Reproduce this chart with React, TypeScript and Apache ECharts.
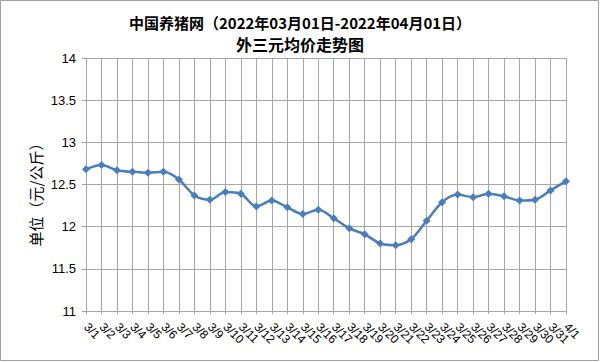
import React, { useEffect, useRef } from "react";
import * as echarts from "echarts";

const categories: string[] = [
  "3/1", "3/2", "3/3", "3/4", "3/5", "3/6", "3/7", "3/8", "3/9", "3/10",
  "3/11", "3/12", "3/13", "3/14", "3/15", "3/16", "3/17", "3/18", "3/19", "3/20",
  "3/21", "3/22", "3/23", "3/24", "3/25", "3/26", "3/27", "3/28", "3/29", "3/30",
  "3/31", "4/1",
];

const prices: number[] = [
  12.68, 12.73, 12.67, 12.65, 12.64, 12.65, 12.56, 12.37, 12.32, 12.41,
  12.39, 12.24, 12.31, 12.23, 12.15, 12.2, 12.1, 11.98, 11.91, 11.8,
  11.78, 11.85, 12.07, 12.29, 12.38, 12.35, 12.39, 12.36, 12.31, 12.32,
  12.43, 12.54,
];

const yTicks = { min: 11, max: 14, interval: 0.5 };

const titleLine1Parts = ["中国养猪网（", "2022年03月01日-2022年04月01日", "）"];
const titleLine2 = "外三元均价走势图";
const yAxisName = "单位（元/公斤）";

export default function App() {
  const ref = useRef<HTMLDivElement>(null);

  useEffect(() => {
    if (!ref.current) return;
    const chart = echarts.init(ref.current, undefined, { renderer: "svg" });
    const gridColor = "#a6a6a6";
    chart.setOption({
      animation: false,
      backgroundColor: "#ffffff",
      title: {
        text:
          "{n|" + titleLine1Parts[0] + "}{b|" + titleLine1Parts[1] + "}{n|" + titleLine1Parts[2] + "}\n{m|" + titleLine2 + "}",
        left: "center",
        top: 7,
        textStyle: {
          rich: {
            n: {
              fontFamily: "Noto Sans CJK SC",
              fontSize: 15,
              color: "#000",
              lineHeight: 21,
            },
            b: {
              fontFamily: "Noto Sans CJK SC",
              fontSize: 15,
              fontWeight: "bold",
              color: "#000",
              lineHeight: 21,
            },
            m: {
              fontFamily: "Noto Sans CJK SC",
              fontSize: 16,
              color: "#000",
              lineHeight: 21,
            },
          },
        },
      },
      graphic: [
        {
          type: "rect",
          shape: { x: 0.5, y: 0.5, width: 598, height: 360 },
          style: { fill: "none", stroke: "#a0a0a0", lineWidth: 1 },
          silent: true,
        },
        {
          type: "text",
          x: 35,
          y: 191,
          rotation: Math.PI / 2,
          style: {
            text: yAxisName,
            fontFamily: "Noto Sans CJK SC",
            fontSize: 15,
            fill: "#000",
            align: "center",
            verticalAlign: "middle",
          },
        },
      ],
      grid: { left: 86, right: 34, top: 58, bottom: 51 },
      xAxis: {
        type: "category",
        data: categories,
        boundaryGap: false,
        axisLine: { show: true, lineStyle: { color: gridColor, width: 1 } },
        axisTick: { show: true, length: 3, lineStyle: { color: gridColor } },
        splitLine: { show: true, lineStyle: { color: gridColor, width: 1 } },
        axisLabel: {
          interval: 0,
          rotate: -45,
          margin: 14,
          fontSize: 12,
          fontFamily: "Liberation Sans",
          color: "#000",
        },
      },
      yAxis: {
        type: "value",
        min: yTicks.min,
        max: yTicks.max,
        interval: yTicks.interval,
        axisLine: { show: true, lineStyle: { color: gridColor, width: 1 } },
        axisTick: { show: true, length: 4, lineStyle: { color: gridColor } },
        splitLine: { show: true, lineStyle: { color: gridColor, width: 1 } },
        axisLabel: {
          margin: 10,
          fontSize: 13,
          fontFamily: "Liberation Sans",
          color: "#000",
          formatter: (v: number) => String(v),
        },
      },
      series: [
        {
          type: "line",
          data: prices,
          smooth: 0.3,
          symbol: "diamond",
          symbolSize: 8,
          lineStyle: { color: "#4a7ebb", width: 2.5 },
          itemStyle: { color: "#4a7ebb" },
        },
      ],
    });
    return () => chart.dispose();
  }, []);

  return (
    <div
      ref={ref}
      style={{ position: "fixed", left: 0, top: 0, width: 600, height: 362 }}
    />
  );
}
